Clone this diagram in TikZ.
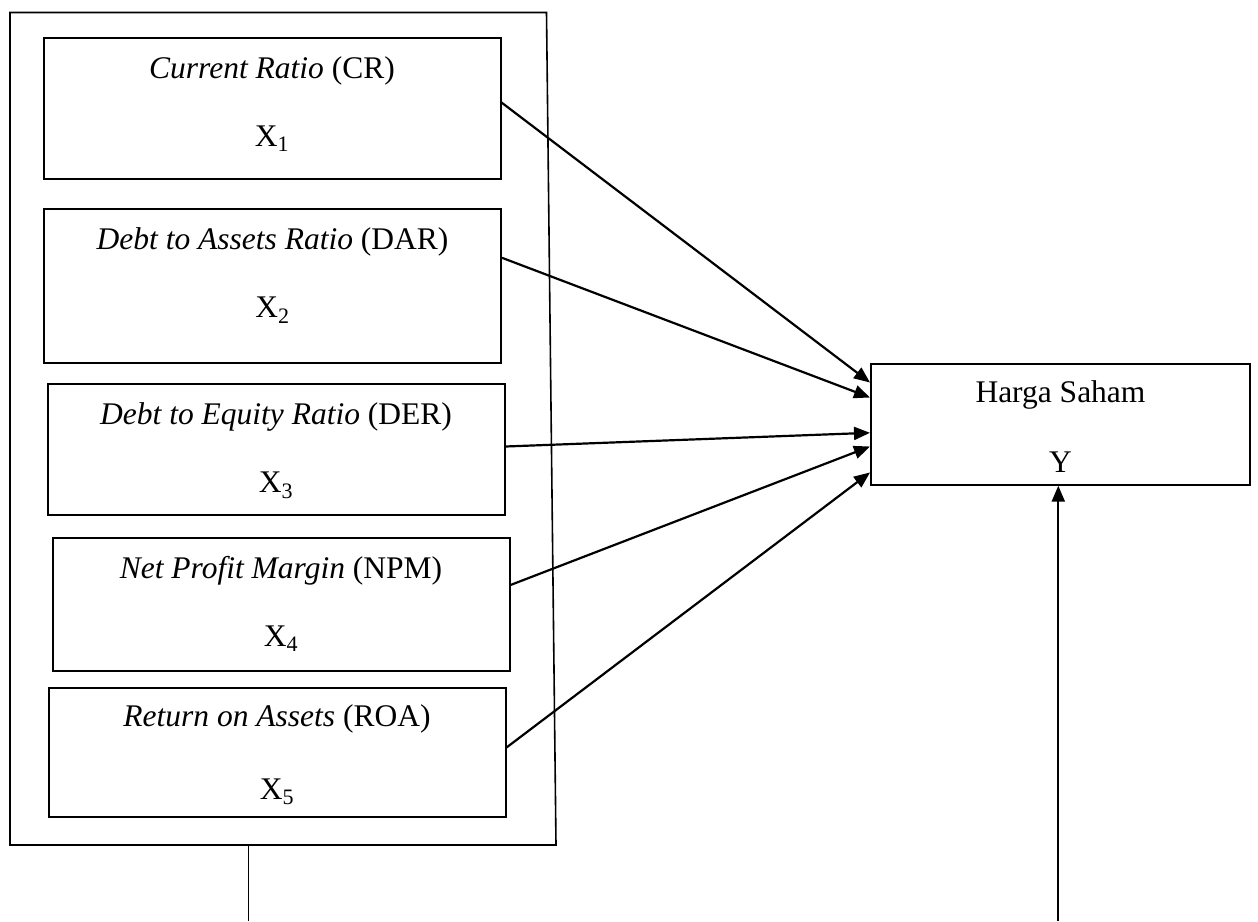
\documentclass[tikz,border=0pt]{standalone}
\usepackage{fontspec}
\setmainfont{Liberation Serif}
\usetikzlibrary{arrows.meta, positioning}

\begin{document}
\begin{tikzpicture}[
    x=1pt, y=-1pt,
    varbox/.style={rectangle, draw, line width=2pt, minimum width=457pt, inner sep=0pt, text height=108pt, align=center, anchor=north, font=\fontsize{31.5}{38}\selectfont},
    frame/.style={line width=1.6pt},
    link/.style={-{Triangle[length=16pt, width=13pt]}, line width=2.2pt},
    stem/.style={line width=1.6pt}
]
\useasboundingbox (0,0) rectangle (1258,921);

% Outer frame round the independent variables
\coordinate (ftl) at (10,12.5);
\coordinate (ftr) at (546.5,12.5);
\coordinate (fbr) at (556,845);
\coordinate (fbl) at (10,845);
\draw[frame] (ftl) -- (ftr) -- (fbr) -- (fbl) -- cycle;

% Independent variables X1 .. X5
\node[varbox, text depth=33pt] (cr) at (272,37) {\textit{Current Ratio} (CR)\\[30pt]X\textsubscript{1}};
\node[varbox, text depth=46pt] (dar) at (272.5,208.3) {\textit{Debt to Assets Ratio} (DAR)\\[30pt]X\textsubscript{2}};
\node[varbox, text depth=23pt] (der) at (276,383) {\textit{Debt to Equity Ratio} (DER)\\[30pt]X\textsubscript{3}};
\node[varbox, text depth=25pt] (npm) at (281,537) {\textit{Net Profit Margin} (NPM)\\[30pt]X\textsubscript{4}};
\node[varbox, text height=111pt, text depth=18pt] (roa) at (277,687) {\textit{Return on Assets} (ROA)\\[35pt]X\textsubscript{5}};

% Dependent variable Y
\node[varbox, minimum width=379pt, text height=109pt, text depth=12pt] (hs) at (1060.5,362.7) {Harga Saham\\[32pt]Y};

% Edges: X -> Y
\draw[link] ([yshift=6pt]cr.east) -- ([yshift=41.7pt]hs.west);
\draw[link] ([yshift=28.5pt]dar.east) -- ([yshift=26.7pt]hs.west);
\draw[link] ([yshift=3pt]der.east) -- ([yshift=-8.6pt]hs.west);
\draw[link] ([yshift=19.5pt]npm.east) -- ([yshift=-22.3pt]hs.west);
\draw[link] ([yshift=5pt]roa.east) -- ([yshift=-48.3pt]hs.west);

% Stems running off the bottom edge
\coordinate (xstem) at (248.3,845);
\coordinate (xend) at (248.3,921);
\coordinate (yend) at (1058.3,921);
\draw[stem] (xstem) -- (xend);
\draw[link] (yend) -- (yend |- hs.south);

\end{tikzpicture}
\end{document}
